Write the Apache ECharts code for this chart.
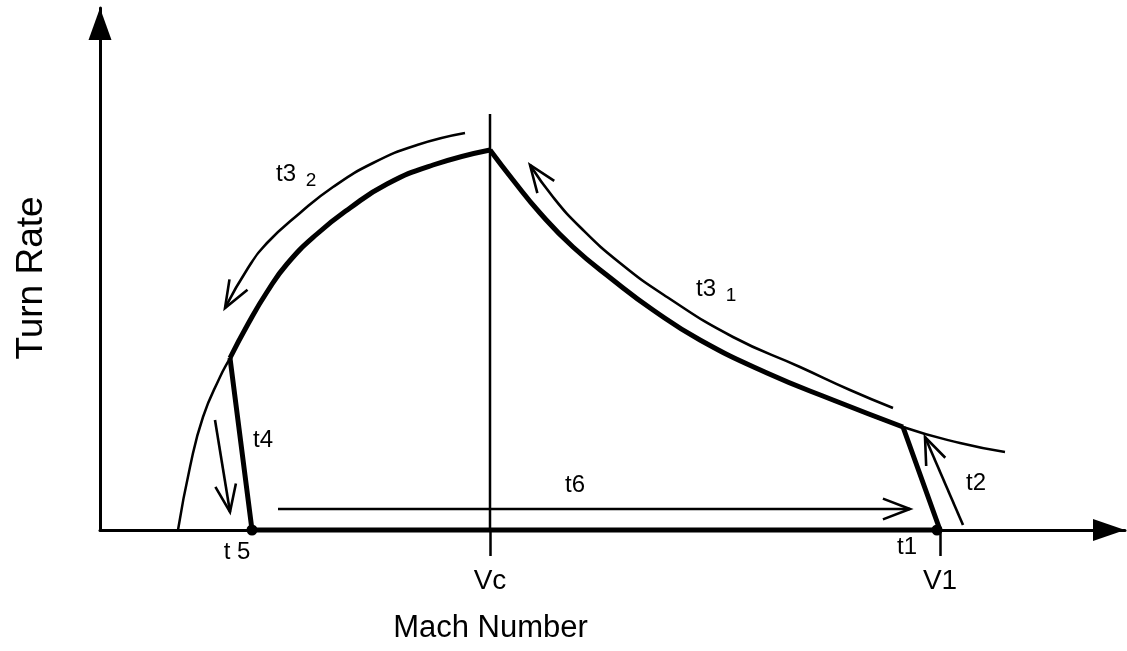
<!DOCTYPE html>
<html>
<head>
<meta charset="utf-8">
<style>html,body{margin:0;padding:0;background:#fff;}#chart{width:1127px;height:651px;}</style>
<script src="https://cdn.jsdelivr.net/npm/echarts@6/dist/echarts.min.js"></script>
</head>
<body>
<div id="chart"></div>
<script>
// ---- data (arbitrary schematic units) ----
const machEnvLeft  = [78, 90, 103, 120, 130, 148, 167, 187, 217, 250, 287, 333, 390];
const turnEnvLeft  = [0, 63, 113, 153, 172, 206, 238, 266, 296, 322, 346, 365, 380];
const machEnvRight = [390, 413, 440, 473, 513, 553, 600, 667, 733, 803, 860, 905];
const turnEnvRight = [380, 350, 317, 283, 250, 220, 190, 157, 130, 103, 87, 78];
const thickLeftStart = 4;   // index where thick path joins left envelope
const thickRightEnd = 9;    // index where thick path leaves right envelope
const machThickEdges = [803, 840, 152, 130];
const turnThickEdges = [103, 0, 0, 172];
const machVc = [390, 390];
const turnVc = [0, 416];
const machDots = [152, 837];
const turnDots = [0, 0];
const arrowMach = [
  [365, 317, 273, 233, 200, 167, 148, 125],
  [793, 750, 700, 633, 567, 520, 480, 453, 430],
  [115, 130],
  [178, 810],
  [863, 825]
];
const arrowTurn = [
  [397, 385, 367, 343, 317, 287, 262, 222],
  [122, 140, 163, 193, 233, 267, 303, 333, 365],
  [110, 18],
  [21, 21],
  [5, 93]
];
const arrowSmooth = [0.5, 0.5, 0, 0, 0];
const labelTexts = ['t3', '2', 't3', '1', 't4', 't6', 't2', 't1', 't 5'];
const labelMach  = [186, 211, 606, 631, 163, 475, 876, 807, 137];
const labelTurn  = [356, 349, 241, 234, 90, 45, 47, -17, -22];
const labelSizes = [24, 19, 24, 19, 24, 24, 24, 24, 24];
const tickValues = [390, 840];
const tickLabels = ['Vc', 'V1'];

const FONT = '"Liberation Sans", Arial, Helvetica, sans-serif';
const zip = (a, b) => a.map((v, i) => [v, b[i]]);

const chart = echarts.init(document.getElementById('chart'), null, {renderer: 'canvas'});

const arrowData = arrowMach.map((a, i) => [i]);

const option = {
  backgroundColor: '#fff',
  animation: false,
  grid: {left: 100, top: 8, width: 1025, height: 522, containLabel: false},
  xAxis: {
    type: 'value', min: 0, max: 1025,
    name: 'Mach Number', nameLocation: 'middle', nameGap: 83,
    nameTextStyle: {fontFamily: FONT, fontSize: 31, color: '#000', padding: [0, 244, 0, 0]},
    axisLine: {show: true, onZero: false, lineStyle: {color: '#000', width: 3},
      symbol: ['none', 'triangle'], symbolSize: [22, 32], symbolOffset: [0, -16]},
    axisTick: {show: true, customValues: tickValues, length: 26, lineStyle: {color: '#000', width: 2.5}},
    axisLabel: {show: true, customValues: tickValues, margin: 37,
      formatter: v => tickLabels[tickValues.indexOf(v)],
      fontFamily: FONT, fontSize: 28, color: '#000'},
    splitLine: {show: false}
  },
  yAxis: {
    type: 'value', min: 0, max: 522,
    name: 'Turn Rate', nameLocation: 'middle', nameGap: 50,
    nameTextStyle: {fontFamily: FONT, fontSize: 37, color: '#000', padding: [0, 18, 0, 0]},
    axisLine: {show: true, lineStyle: {color: '#000', width: 3},
      symbol: ['none', 'triangle'], symbolSize: [23, 32], symbolOffset: [0, -16]},
    axisTick: {show: false},
    axisLabel: {show: false},
    splitLine: {show: false}
  },
  series: [
    {type: 'line', data: zip(machEnvLeft, turnEnvLeft), smooth: 0.5, symbol: 'none',
      lineStyle: {color: '#000', width: 2.5}, clip: false},
    {type: 'line', data: zip(machEnvRight, turnEnvRight), smooth: 0.5, symbol: 'none',
      lineStyle: {color: '#000', width: 2.5}, clip: false},
    {type: 'line', data: zip(machEnvLeft, turnEnvLeft).slice(thickLeftStart), smooth: 0.5, symbol: 'none',
      lineStyle: {color: '#000', width: 5}, clip: false},
    {type: 'line', data: zip(machEnvRight, turnEnvRight).slice(0, thickRightEnd + 1), smooth: 0.5, symbol: 'none',
      lineStyle: {color: '#000', width: 5}, clip: false},
    {type: 'line', data: zip(machThickEdges, turnThickEdges), smooth: false, symbol: 'none',
      lineStyle: {color: '#000', width: 5, join: 'round'}, clip: false},
    {type: 'line', data: zip(machVc, turnVc), symbol: 'none',
      lineStyle: {color: '#000', width: 2.5}, clip: false},
    {type: 'scatter', data: zip(machDots, turnDots), symbol: 'circle', symbolSize: 11,
      itemStyle: {color: '#000', opacity: 1}, clip: false},
    {
      type: 'custom', clip: false, data: arrowData,
      renderItem: function (params, api) {
        const i = params.dataIndex;
        const pts = arrowMach[i].map((m, k) => api.coord([m, arrowTurn[i][k]]));
        const n = pts.length;
        const tip = pts[n - 1], prev = pts[n - 2];
        let dx = tip[0] - prev[0], dy = tip[1] - prev[1];
        const len = Math.sqrt(dx * dx + dy * dy) || 1;
        dx /= len; dy /= len;
        const L = 29, ang = 21 * Math.PI / 180;
        const rot = (a) => [dx * Math.cos(a) - dy * Math.sin(a), dx * Math.sin(a) + dy * Math.cos(a)];
        const r1 = rot(ang), r2 = rot(-ang);
        const b1 = [tip[0] - L * r1[0], tip[1] - L * r1[1]];
        const b2 = [tip[0] - L * r2[0], tip[1] - L * r2[1]];
        const style = {stroke: '#000', lineWidth: 2.6, fill: null, lineJoin: 'miter', lineCap: 'butt'};
        return {
          type: 'group',
          children: [
            {type: 'polyline', shape: {points: pts, smooth: arrowSmooth[i]}, style: style},
            {type: 'polyline', shape: {points: [b1, tip, b2]}, style: style}
          ]
        };
      }
    },
    {
      type: 'scatter', symbolSize: 0, clip: false,
      itemStyle: {opacity: 1},
      data: labelTexts.map((t, i) => ({
        value: [labelMach[i], labelTurn[i]], name: t,
        label: {fontSize: labelSizes[i], color: '#000'}
      })),
      label: {show: true, position: 'inside', formatter: p => p.name,
        fontFamily: FONT, color: '#000', textBorderWidth: 0}
    }
  ]
};
chart.setOption(option);
</script>
</body>
</html>
